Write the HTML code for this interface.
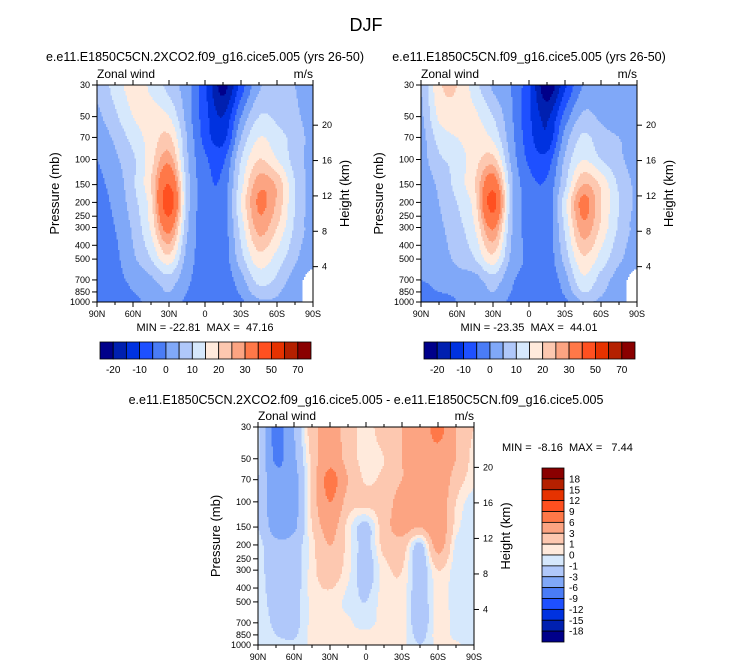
<!DOCTYPE html>
<html><head><meta charset="utf-8"><style>
body{margin:0;background:#fff;}
svg{display:block;font-family:"Liberation Sans",Arial,sans-serif;}
text{white-space:pre;}
</style></head><body>
<svg id="chart" width="733" height="668" viewBox="0 0 733 668" xmlns="http://www.w3.org/2000/svg">
<text x="366" y="31" font-size="18" text-anchor="middle">DJF</text>
</svg>
<script>
// ---- data ----
const lats = [90,75,60,45,30,15,0,-15,-30,-45,-60,-75,-90];
const pressures = [30,50,70,100,150,200,300,500,700,850,1000];
const pTicks = [30,50,70,100,150,200,250,300,400,500,700,850,1000];
const hTicks = [4,8,12,16,20];
const latTickLabels = ["90N","60N","30N","0","30S","60S","90S"];
const latTickVals = [90,60,30,0,-30,-60,-90];
const levels1 = [-20,-15,-10,-5,0,5,10,15,20,25,30,40,50,60,70];
const levelLabels1 = ["-20","-10","0","10","20","30","50","70"];
const levels3 = [-18,-15,-12,-9,-6,-3,-1,0,1,3,6,9,12,15,18];
const colors = ["#00008a","#0020b0","#0032e0","#1e50ff","#4a7cf6","#80a8f8","#b0c8fa","#d6e8fc","#ffeadc","#fdc8b0","#fca482","#ff7848","#ff5020","#e63200","#b42000","#8a0000"];
const N = NaN;
const field1 = [
 [6,12,17,14,8,2,-9,-22,-8,4,7,5,3],
 [4,9,15,17,15,3,-8,-15,0,10,9,6,3],
 [2,6,12,17,21,5,-7,-12,5,15,12,8,3],
 [0,4,9,18,28,6,-4,-6,10,20,15,8,3],
 [-1,2,9,20,40,8,-3,-3.5,13,28,24,10,3],
 [-1,1,8,18,46,8,-2.5,-3,15,31,24,10,3],
 [-1,0,6,16,33,6,-2.5,-3,12,27,20,9,2],
 [-1,-1,4,10,18,3,-2,-3,8,18,13,6,0],
 [-1,-1,1,4,8,1,-2,-3,3,12,9,2,N],
 [-1,-1,0,2,5,0,-2,-3,1,8,6,1,N],
 [-3,-3,-1,1,3,-1,-4,-4,-1,4,4,0,N]
];
const field2 = [
 [5,19,20,12,4,0,-9,-24,-11,0,0,1,2],
 [4,16,18,16,10,1,-9,-16,-3,6,4,2,2],
 [3,12,15,17,14,2,-8,-14,2,11,7,5,3],
 [3,9,12,18,22,4,-6,-8,6,15,10,6,3],
 [2,6,12,20,36,7,-3,-4,9,25,19,9,4],
 [2,5,10,18,44,7,-2,-3.5,13,32,20,10,4],
 [1,4,8,15,31,6,-2,-3.5,11,28,19,9,3],
 [1,3,6,10,18,4,-1,-3,7,19,13,6,1],
 [0,1,3,3,8,1,-2,-3.5,3,14,8,2,N],
 [-1,0,1,2,5,0,-2,-3.5,1,10,6,1,N],
 [-3,-3,0,1,3,-1,-4,-4,-1,5,4,0,N]
];
const field3 = [
 [-0.5,-7,-3,2,4,2,0.5,2,3,4,7,3,1],
 [-0.5,-6.5,-3.5,1.5,5,2,0.5,1,3,4,5,3,0.5],
 [-1,-5,-4,1.5,7,3,0.8,1.5,3,4,5,2,0.3],
 [-1,-5,-4,1.5,6,2,1.5,2,4,5,5,1,-0.5],
 [-1,-4,-3.5,1,4,0.5,-1.5,2,4,3,5,0.5,-0.7],
 [-0.5,-2.5,-2,0.5,3,0.5,-1.5,1.5,2,-1.5,4,-0.3,-0.7],
 [-0.5,-2,-2,0.5,2,0.3,-1.8,0.5,1,-2,1,-0.5,-0.7],
 [-0.5,-1.5,-1.5,0.3,0.5,-0.3,-1,0.5,0.5,-2,0.5,-0.5,-0.7],
 [-0.5,-1.2,-1.5,0.3,0.5,0.2,-0.5,0.5,0.5,-2,0.5,-0.3,-0.5],
 [-0.3,-1,-1.2,0.3,0.5,0.2,0.3,0.5,0.5,-1.5,0.5,-0.3,-0.5],
 [-0.3,-0.5,-0.8,0.3,0.5,0.2,0.3,0.3,0.3,-1,0.3,0.2,-0.5]
];
const NS="http://www.w3.org/2000/svg";
const svg=document.getElementById('chart');
function mk(tag,attrs,parent){const e=document.createElementNS(NS,tag);for(const k in attrs)e.setAttribute(k,attrs[k]);(parent||svg).appendChild(e);return e;}
function txt(x,y,s,size,anchor,parent,extra){const t=mk('text',Object.assign({x:x,y:y,'font-size':size,'text-anchor':anchor||'start'},extra||{}),parent);t.textContent=s;return t;}
function colorIdx(v,levels){let i=0;while(i<levels.length&&v>=levels[i])i++;return i;}
function cr(p0,p1,p2,p3,t){return 0.5*((2*p1)+(-p0+p2)*t+(2*p0-5*p1+4*p2-p3)*t*t+(-p0+3*p1-3*p2+p3)*t*t*t);}

function drawPanel(px,py,W,H,field,levels,name){
  const g=mk('g',{});
  
  
  const xOf=lat=>px+(90-lat)/180*W;
  const yOf=p=>py+Math.log(p/30)/Math.log(1000/30)*H;
  const gx=lats.map(xOf), gy=pressures.map(yOf);
  const R=gy.length,C=gx.length;
  function F(i,j){i=Math.max(0,Math.min(R-1,i));j=Math.max(0,Math.min(C-1,j));return field[i][j];}
  function val(x,y){
    let j=0;while(j<C-2&&x>gx[j+1])j++;
    let i=0;while(i<R-2&&y>gy[i+1])i++;
    const tx=Math.min(1,Math.max(0,(x-gx[j])/(gx[j+1]-gx[j])));
    const ty=Math.min(1,Math.max(0,(y-gy[i])/(gy[i+1]-gy[i])));
    const a=field[i][j],b=field[i][j+1],c=field[i+1][j],d=field[i+1][j+1];
    if(isNaN(a)||isNaN(b)||isNaN(c)||isNaN(d)){
      const nn=[[a,(1-tx)*(1-ty)],[b,tx*(1-ty)],[c,(1-tx)*ty],[d,tx*ty]];
      let s=0,w=0;nn.forEach(([v,ww])=>{if(!isNaN(v)){s+=v*ww;w+=ww;}});
      if(1-w>0.45)return NaN; return s/w;
    }
    const rows=[];
    for(let di=-1;di<=2;di++){
      const v=[F(i+di,j-1),F(i+di,j),F(i+di,j+1),F(i+di,j+2)];
      if(v.some(isNaN)) return a*(1-tx)*(1-ty)+b*tx*(1-ty)+c*(1-tx)*ty+d*tx*ty;
      rows.push(cr(v[0],v[1],v[2],v[3],tx));
    }
    return cr(rows[0],rows[1],rows[2],rows[3],ty);
  }
  const step=1.5;
  for(let y=py;y<py+H;y+=step){
    let runStart=px,runC=null;
    for(let x=px;x<=px+W;x+=step){
      let c=null;
      if(x<px+W){const v=val(x+step/2,y+step/2);c=isNaN(v)?'#ffffff':colors[colorIdx(v,levels)];}
      if(c!==runC){
        if(runC!==null){const r=mk('rect',{x:runStart,y:y,width:Math.min(x,px+W)-runStart,height:Math.min(step,py+H-y)+0.4,fill:runC},g);
          
          }
        runStart=x;runC=c;
      }
    }
  }
  const frame=mk('rect',{x:px,y:py,width:W,height:H,fill:'none',stroke:'#000','stroke-width':1});
  
  
  pTicks.forEach(p=>{const y=yOf(p);mk('line',{x1:px-5,x2:px,y1:y,y2:y,stroke:'#000'});
    const t=txt(px-7,y+3,String(p),9,'end');});
  hTicks.forEach(h=>{const p=1000*Math.exp(-h/7);const y=yOf(p);mk('line',{x1:px+W,x2:px+W+5,y1:y,y2:y,stroke:'#000'});
    const t=txt(px+W+9,y+3,String(h),9,'start');});
  for(let l=90;l>=-90;l-=15){const x=xOf(l);const major=l%30===0;
    mk('line',{x1:x,x2:x,y1:py+H,y2:py+H+(major?5:3),stroke:'#000'});
    mk('line',{x1:x,x2:x,y1:py,y2:py-(major?5:3),stroke:'#000'});}
  latTickVals.forEach((l,k)=>{const t=txt(xOf(l),py+H+15,latTickLabels[k],9,'middle');});
  const zw=txt(px,py-7,'Zonal wind',12,'start');
  const un=txt(px+W,py-7,'m/s',12,'end');
  const yl=txt(0,0,'Pressure (mb)',13,'middle',null,{transform:`translate(${px-38},${py+H/2}) rotate(-90)`});
  
  const hl=txt(0,0,'Height (km)',13,'middle',null,{transform:`translate(${px+W+36},${py+H/2}) rotate(-90)`});
  
}

function hColorbar(x0,y0,w,h,name){
  const bw=w/colors.length;
  colors.forEach((c,k)=>{const r=mk('rect',{x:x0+k*bw,y:y0,width:bw,height:h,fill:c,stroke:'#000','stroke-width':0.8});
    });
  levelLabels1.forEach((s,k)=>{const t=txt(x0+(2*k+1)*bw,y0+h+14,s,10,'middle');});
}

drawPanel(97,85,216,217,field1,levels1,'panel-2xco2');
drawPanel(421,85,216,217,field2,levels1,'panel-control');
drawPanel(258,427,216,218,field3,levels3,'panel-difference');

let t;
t=txt(205,61,'e.e11.E1850C5CN.2XCO2.f09_g16.cice5.005 (yrs 26-50)',12.5,'middle');
t=txt(529,61,'e.e11.E1850C5CN.f09_g16.cice5.005 (yrs 26-50)',12.5,'middle');
t=txt(366,404,'e.e11.E1850C5CN.2XCO2.f09_g16.cice5.005 - e.e11.E1850C5CN.f09_g16.cice5.005',12.5,'middle');
t=txt(205,331,'MIN = -22.81  MAX =  47.16',11,'middle');
t=txt(529,331,'MIN = -23.35  MAX =  44.01',11,'middle');
t=txt(502,451,'MIN =  -8.16  MAX =   7.44',11,'start');

hColorbar(100,342,211,17,'colorbar1');
hColorbar(424,342,211,17,'colorbar2');

(function(){
  const x0=542,y0=468,w=22,h=174,bh=h/colors.length;
  for(let k=0;k<colors.length;k++){const c=colors[colors.length-1-k];
    const r=mk('rect',{x:x0,y:y0+k*bh,width:w,height:bh,fill:c,stroke:'#000','stroke-width':0.8});
    }
  const rev=levels3.slice().reverse();
  rev.forEach((v,k)=>{const tt=txt(x0+w+5,y0+(k+1)*bh+3.5,String(v),10,'start');});
})();
</script>
</body></html>
